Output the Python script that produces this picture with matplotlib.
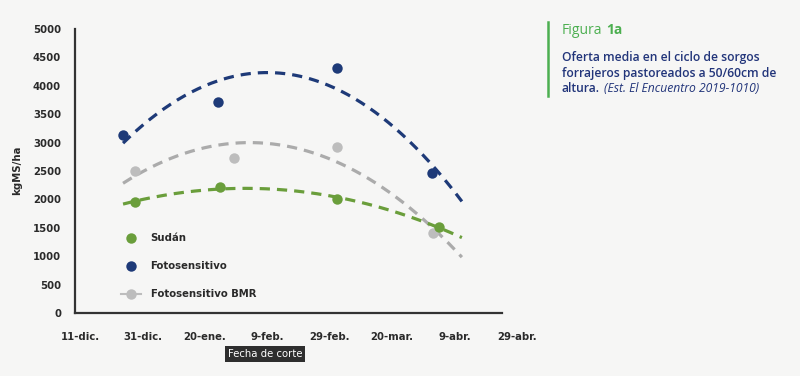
import numpy as np
import matplotlib
matplotlib.use("Agg")
import matplotlib.pyplot as plt
from matplotlib.lines import Line2D

# ---- data (days after 11-dic) ----
tick_days = [0, 20, 40, 60, 80, 100, 120, 140]
tick_labels = ["11-dic.", "31-dic.", "20-ene.", "9-feb.", "29-feb.", "20-mar.", "9-abr.", "29-abr."]
y_ticks = [0, 500, 1000, 1500, 2000, 2500, 3000, 3500, 4000, 4500, 5000]

sudan_x = [17.6, 44.9, 82.4, 115.0]
sudan_y = [1954, 2218, 2007, 1514]
foto_x = [13.8, 44.2, 82.4, 112.8]
foto_y = [3134, 3715, 4313, 2465]
bmr_x = [17.6, 49.4, 82.4, 113.0]
bmr_y = [2500, 2729, 2923, 1408]

trend_range = [13.8, 122.4]

c_green = "#6a9e3b"
c_blue = "#1e3a78"
c_gray_pt = "#bdbdbd"
c_gray_ln = "#ababab"
c_text = "#2a2a2a"

plt.rcParams['font.family'] = ['DejaVu Sans']

fig = plt.figure(figsize=(8, 3.76), dpi=100)
fig.patch.set_facecolor("#f6f6f5")
ax = fig.add_axes([75/800, 1-313/376, (80+141*3.12-75)/800, (313-29)/376])
ax.set_facecolor("none")

xx = np.linspace(trend_range[0], trend_range[1], 200)
for xs, ys, ptc, lnc in [(foto_x, foto_y, c_blue, c_blue),
                         (bmr_x, bmr_y, c_gray_pt, c_gray_ln),
                         (sudan_x, sudan_y, c_green, c_green)]:
    p = np.polyfit(xs, ys, 2)
    ax.plot(xx, np.polyval(p, xx), ls=(0, (3.2, 2.2)), lw=2.3, color=lnc, zorder=2)
    ax.plot(xs, ys, 'o', ms=7.5, color=ptc, mec='none', zorder=3)

ax.set_xlim(-1.6, 141)
ax.set_ylim(0, 5000)
ax.spines['bottom'].set_bounds(-1.6, 135.3)
for s in ['top', 'right']:
    ax.spines[s].set_visible(False)
for s in ['left', 'bottom']:
    ax.spines[s].set_color("#333333")
    ax.spines[s].set_linewidth(1.6)

ax.set_xticks(tick_days)
ax.set_xticklabels(tick_labels)
ax.set_yticks(y_ticks)
ax.tick_params(axis='x', length=0, pad=14, labelsize=7.3, labelcolor=c_text)
ax.tick_params(axis='y', length=0, pad=10, labelsize=7.3, labelcolor=c_text)
for lab in ax.get_xticklabels() + ax.get_yticklabels():
    lab.set_fontweight('bold')

fig.text(17/800, 1-170/376, "kgMS/ha", rotation=90, ha='center', va='center',
         fontsize=7.3, fontweight='bold', color=c_text)

fig.text(265/800, 1-354/376, "Fecha de corte", ha='center', va='center',
         fontsize=7.3, color='white',
         bbox=dict(boxstyle='square,pad=0.25', fc='#2e2e2e', ec='none'))

handles = [Line2D([], [], ls='none', marker='o', ms=7.5, color=c_green, mec='none'),
           Line2D([], [], ls='none', marker='o', ms=7.5, color=c_blue, mec='none'),
           Line2D([], [], ls='-', lw=1.5, marker='o', ms=7.5, color=c_gray_pt, mec='none')]
leg = ax.legend(handles, ["Sudán", "Fotosensitivo", "Fotosensitivo BMR"],
                loc='upper left', bbox_to_anchor=(112/800, 1-224/376),
                bbox_transform=fig.transFigure, frameon=False,
                fontsize=7.3, labelspacing=1.78, handlelength=2.0, handletextpad=0.9)
for t in leg.get_texts():
    t.set_fontweight('bold')
    t.set_color(c_text)

# right-hand caption
fig.add_artist(Line2D([548/800, 548/800], [1-22/376, 1-96/376], color="#4caf50", lw=1.8,
                      transform=fig.transFigure))
renderer = fig.canvas.get_renderer()
cap_font = ['Open Sans', 'DejaVu Sans']
tf = fig.text(562/800, 1-30/376, "Figura", fontsize=10, color="#4caf50", va='center', ha='left',
              family=cap_font)
bb = tf.get_window_extent(renderer)
fig.text((bb.x1 + 4)/800, 1-30/376, "1a", fontsize=10, color="#4caf50", va='center', ha='left',
         fontweight='bold', family=cap_font)
c_cap = "#22357a"
fig.text(562/800, 1-58/376, "Oferta media en el ciclo de sorgos", fontsize=8.7,
         color=c_cap, va='center', ha='left', fontweight='semibold', family=cap_font)
fig.text(562/800, 1-73/376, "forrajeros pastoreados a 50/60cm de", fontsize=8.7,
         color=c_cap, va='center', ha='left', fontweight='semibold', family=cap_font)
t1 = fig.text(562/800, 1-88/376, "altura.", fontsize=8.7,
              color=c_cap, va='center', ha='left', fontweight='semibold', family=cap_font)
bb = t1.get_window_extent(renderer)
fig.text((bb.x1 + 4)/800, 1-88/376, "(Est. El Encuentro 2019-1010)", fontsize=8.7,
         color=c_cap, va='center', ha='left', style='italic', family=cap_font)

fig.savefig("out.png", dpi=100, facecolor=fig.get_facecolor())
